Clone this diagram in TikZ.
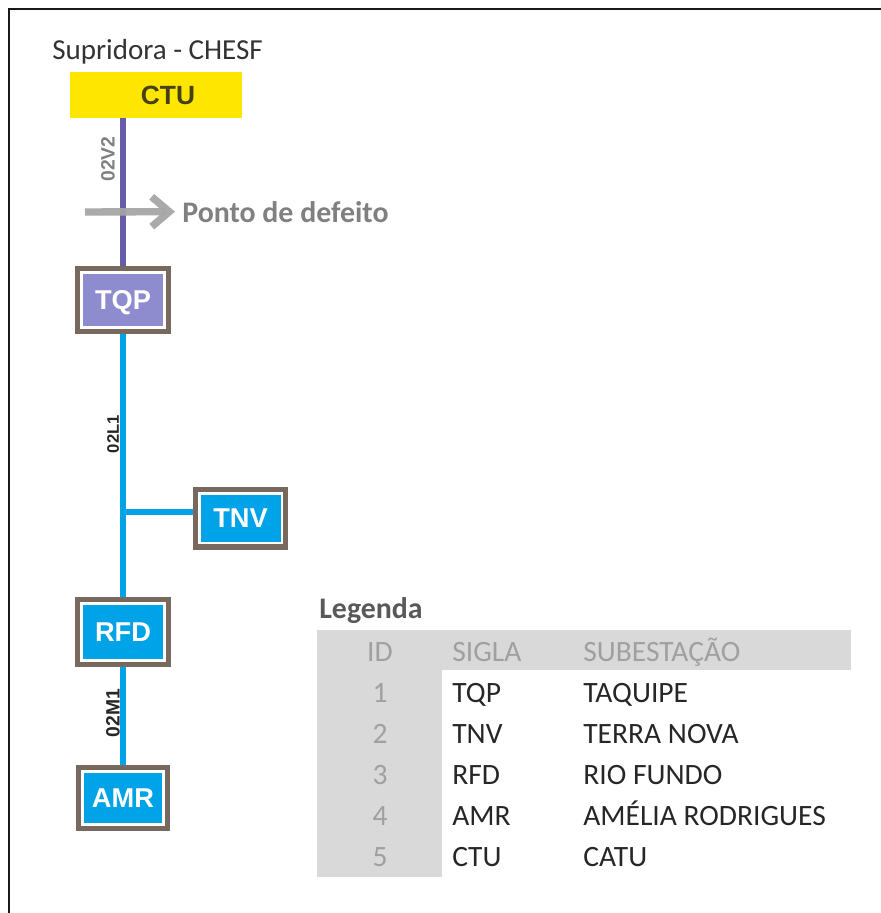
\documentclass[tikz,border=0pt]{standalone}
\usepackage{fontspec}
\setmainfont{Carlito}
\newfontfamily\arialfont{Liberation Sans}
\usetikzlibrary{arrows.meta,backgrounds}

\definecolor{ctuyellow}{RGB}{255,230,0}
\definecolor{ctutext}{RGB}{70,65,20}
\definecolor{tqppurple}{RGB}{142,140,206}
\definecolor{linepurple}{RGB}{102,92,170}
\definecolor{subblue}{RGB}{0,162,232}
\definecolor{framebrown}{RGB}{120,105,95}
\definecolor{faultgray}{RGB}{165,165,165}
\definecolor{faulttext}{RGB}{128,128,128}
\definecolor{legendgray}{RGB}{217,217,217}
\definecolor{headgray}{RGB}{160,160,160}
\definecolor{darktext}{RGB}{38,38,38}

\begin{document}
\begin{tikzpicture}[
  x=0.02cm, y=-0.02cm,
  sub/.style={preaction={draw=framebrown, line width=7.4pt},
    draw=white, line width=1.7pt, minimum width=1.66cm, minimum height=1.1cm,
    inner sep=0pt, text depth=0pt, text=white,
    font=\arialfont\bfseries\fontsize{15.5}{18}\selectfont},
  ctubox/.style={fill=ctuyellow, minimum width=3.44cm, minimum height=0.92cm,
    inner sep=0pt, text depth=0pt, text=ctutext,
    font=\arialfont\bfseries\fontsize{15}{18}\selectfont},
  purpleline/.style={draw=linepurple, line width=3pt},
  blueline/.style={draw=subblue, line width=3pt},
  linelabel/.style={rotate=90, inner sep=0pt, text depth=0pt,
    font=\arialfont\bfseries\fontsize{11}{13}\selectfont},
  fault/.style={draw=faultgray, line width=4.2pt,
    -{Straight Barb[length=10pt,width=17pt]}, shorten >=4pt},
  legtext/.style={inner sep=0pt, font=\fontsize{16.8}{19}\selectfont},
  every node/.style={inner sep=0pt}
]
\useasboundingbox (0,0) rectangle (881,913);
\draw[line width=1.7pt, black!90] (9,913) -- (9,9) -- (881,9);

% supply and substations
\node[anchor=base west, text=black!80, font=\fontsize{16.5}{19}\selectfont] (chesf) at (52,59) {Supridora - CHESF};
\node[ctubox] (ctu) at (156,95) {\hspace{0.48cm}CTU};
\node[sub, fill=tqppurple] (tqp) at (123,300) {TQP};
\node[sub, fill=subblue, minimum height=1.0cm] (tnv) at (240.5,518) {TNV};
\node[sub, fill=subblue, minimum height=1.14cm] (rfd) at (123,632) {RFD};
\node[sub, fill=subblue, minimum height=1.06cm, minimum width=1.62cm] (amr) at (123,798) {AMR};
\coordinate (tap) at (123,512);

\begin{scope}[on background layer]
  \draw[purpleline] (ctu.south -| tqp.north) -- (tqp.north);
  \draw[blueline] (tqp.south) -- (rfd.north);
  \draw[blueline] (tap) -- (tap -| tnv.west);
  \draw[blueline] (rfd.south) -- (amr.north);
\end{scope}

% line names
\node[linelabel, text=faulttext] (v2) at (108,159) {02V2};
\node[linelabel, text=darktext, font=\arialfont\bfseries\fontsize{9.5}{11}\selectfont] (l1) at (113,434) {02L1};
\node[linelabel, text=darktext] (m1) at (113,713) {02M1};

% fault point
\node[anchor=base west, text=faulttext, font=\bfseries\fontsize{17}{20}\selectfont] (defeito) at (182,222) {Ponto de defeito};
\coordinate (faulttail) at (85,212);
\draw[fault, opacity=0.95] (faulttail) -- (defeito.west);

% legend
\node[anchor=base west, text=black!65, font=\bfseries\fontsize{17}{20}\selectfont] (legenda) at (319,618) {Legenda};
\fill[legendgray] (317,630) rectangle (851,670);
\fill[legendgray] (317,670) rectangle (442,877);
\node[legtext, anchor=base, text=headgray] (hid) at (380,661) {ID};
\node[legtext, anchor=base west, text=headgray] (hsigla) at (452,661) {SIGLA};
\node[legtext, anchor=base west, text=headgray] (hnome) at (583,661) {SUBESTAÇÃO};
\foreach \sigla/\nome [count=\i] in {TQP/TAQUIPE, TNV/TERRA NOVA, RFD/RIO FUNDO,
    AMR/AMÉLIA RODRIGUES, CTU/CATU} {
  \node[legtext, anchor=base, text=headgray] (id\i) at (380,{661+41*\i}) {\i};
  \node[legtext, anchor=base west, text=darktext] (sigla\i) at (452,{661+41*\i}) {\sigla};
  \node[legtext, anchor=base west, text=darktext] (nome\i) at (583,{661+41*\i}) {\nome};
}
\end{tikzpicture}
\end{document}
